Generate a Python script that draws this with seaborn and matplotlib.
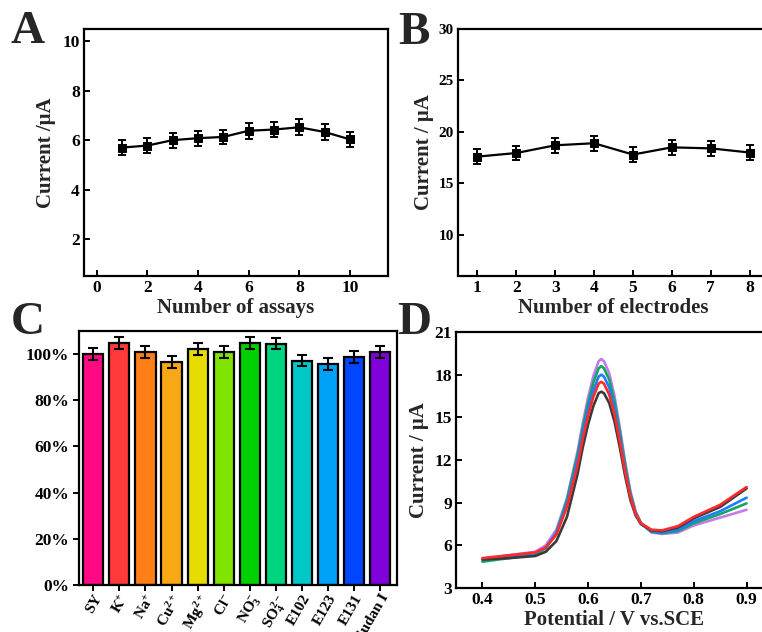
import numpy as np
import pandas as pd
import matplotlib
matplotlib.use("Agg")
import matplotlib.pyplot as plt
import seaborn as sns

# ---------------- Data ----------------
# Panel A: repeated assays
assay_no = [1, 2, 3, 4, 5, 6, 7, 8, 9, 10]
assay_current = [5.70, 5.78, 6.00, 6.08, 6.13, 6.38, 6.43, 6.52, 6.33, 6.03]
assay_err = [0.30, 0.30, 0.30, 0.30, 0.30, 0.32, 0.32, 0.32, 0.32, 0.30]

# Panel B: different electrodes
electrode_no = [1, 2, 3, 4, 5, 6, 7, 8]
electrode_current = [17.6, 17.95, 18.7, 18.9, 17.8, 18.5, 18.4, 18.0]
electrode_err = [0.7, 0.7, 0.7, 0.75, 0.7, 0.7, 0.7, 0.7]

# Panel C: interference study
interferents = ["SY", r"K$^{+}$", r"Na$^{+}$", r"Cu$^{2+}$", r"Mg$^{2+}$", r"Cl$^{-}$",
                r"NO$_{3}^{-}$", r"SO$_{4}^{2-}$", "E102", "E123", "E131", "Sudan I"]
recovery = [100.0, 104.8, 101.0, 96.5, 102.2, 101.0, 104.8, 104.5, 97.2, 95.8, 98.7, 101.0]
recovery_err = [2.5, 2.5, 2.5, 2.5, 2.5, 2.5, 2.5, 2.5, 2.5, 2.5, 2.5, 2.5]
bar_colors = ["#FF0A84", "#FF3A3A", "#FF7F16", "#F7A814", "#E6DC00", "#80E400",
              "#00D000", "#00D47E", "#00C8C8", "#00A2F8", "#0046FF", "#8200DC"]

# Panel D: DPV curves
potential = [0.40, 0.45, 0.50, 0.52, 0.54, 0.56, 0.58, 0.59, 0.60, 0.61, 0.62, 0.625, 0.63,
             0.64, 0.65, 0.66, 0.67, 0.68, 0.69, 0.70, 0.72, 0.74, 0.77, 0.80, 0.85, 0.90]
dpv_black = [5.00, 5.10, 5.25, 5.55, 6.30, 8.00, 11.0, 12.9, 14.5, 15.8, 16.7, 16.8, 16.7,
             16.0, 14.7, 12.9, 10.9, 9.20, 8.10, 7.50, 7.05, 7.00, 7.25, 7.90, 8.70, 10.0]
dpv_red = [5.10, 5.30, 5.50, 5.85, 6.75, 8.70, 11.6, 13.5, 15.1, 16.45, 17.37, 17.5, 17.37,
           16.6, 15.2, 13.3, 11.2, 9.40, 8.20, 7.55, 7.10, 7.05, 7.35, 8.00, 8.85, 10.1]
dpv_blue = [5.00, 5.20, 5.45, 5.85, 6.85, 8.95, 12.0, 13.9, 15.55, 16.9, 17.87, 18.0, 17.87,
            17.1, 15.6, 13.6, 11.4, 9.50, 8.20, 7.50, 7.00, 6.90, 7.10, 7.70, 8.40, 9.35]
dpv_green = [4.85, 5.10, 5.35, 5.80, 6.90, 9.20, 12.35, 14.3, 16.0, 17.45, 18.45, 18.6, 18.45,
             17.65, 16.1, 14.0, 11.7, 9.70, 8.30, 7.55, 6.95, 6.85, 7.00, 7.55, 8.20, 8.95]
dpv_violet = [5.05, 5.30, 5.55, 6.00, 7.10, 9.30, 12.6, 14.6, 16.4, 17.9, 18.95, 19.1, 18.95,
              18.1, 16.5, 14.3, 11.9, 9.80, 8.40, 7.60, 6.90, 6.80, 6.90, 7.40, 7.95, 8.50]
dpv_names = ["violet", "green", "blue", "black", "red"]
dpv_colors = {"violet": "#C27AEC", "green": "#14A466", "blue": "#1E7CFF",
              "black": "#3A3A3A", "red": "#FF2A2A"}

# ---------------- Style ----------------
sns.set_theme(style="ticks")
plt.rcParams["font.family"] = ["Liberation Serif", "DejaVu Serif"]
plt.rcParams["font.weight"] = "bold"
plt.rcParams["axes.labelweight"] = "bold"
plt.rcParams["mathtext.fontset"] = "custom"
plt.rcParams["mathtext.rm"] = "Liberation Serif:bold"
plt.rcParams["mathtext.it"] = "Liberation Serif:bold"
plt.rcParams["mathtext.bf"] = "Liberation Serif:bold"
plt.rcParams["mathtext.default"] = "bf"

W, H = 762, 632
fig = plt.figure(figsize=(W / 100, H / 100), dpi=100)

def box(l, t, r, b):
    return [l / W, (H - b) / H, (r - l) / W, (b - t) / H]

tick_fs = 12.5
label_fs = 15
lw = 1.6

def style_axes(ax, direction="in"):
    for s in ax.spines.values():
        s.set_linewidth(lw)
        s.set_color("black")
    ax.tick_params(direction=direction, length=4, width=1.4, labelsize=tick_fs,
                   colors="black", pad=3)
    for t in ax.get_xticklabels() + ax.get_yticklabels():
        t.set_fontweight("bold")

# ---- Panel A ----
axA = fig.add_axes(box(84, 29, 388, 276))
dfA = pd.DataFrame({"n": assay_no, "I": assay_current})
axA.errorbar(assay_no, assay_current, yerr=assay_err, fmt="none", ecolor="black",
             elinewidth=1.4, capsize=3, capthick=1.4, zorder=2)
sns.lineplot(data=dfA, x="n", y="I", ax=axA, color="black", lw=1.6, marker="s",
             markersize=6, markeredgecolor="black", zorder=3)
axA.set_xlim(-0.5, 11.5)
axA.set_ylim(0.5, 10.5)
axA.set_xticks([0, 2, 4, 6, 8, 10])
axA.set_yticks([2, 4, 6, 8, 10])
axA.set_xlabel("Number of assays", fontsize=label_fs, fontweight="bold", labelpad=1)
axA.set_ylabel("Current /μA", fontsize=label_fs, fontweight="bold", labelpad=5)
style_axes(axA)

# ---- Panel B ----
axB = fig.add_axes(box(458, 29, 769, 276))
dfB = pd.DataFrame({"n": electrode_no, "I": electrode_current})
axB.errorbar(electrode_no, electrode_current, yerr=electrode_err, fmt="none",
             ecolor="black", elinewidth=1.4, capsize=3, capthick=1.4, zorder=2)
sns.lineplot(data=dfB, x="n", y="I", ax=axB, color="black", lw=1.6, marker="s",
             markersize=6, markeredgecolor="black", zorder=3)
axB.set_xlim(0.5, 8.5)
axB.set_ylim(6, 30)
axB.set_xticks(electrode_no)
axB.set_yticks([10, 15, 20, 25, 30])
axB.set_xlabel("Number of electrodes", fontsize=label_fs, fontweight="bold", labelpad=1)
axB.set_ylabel("Current / μA", fontsize=label_fs, fontweight="bold", labelpad=3)
style_axes(axB)
axB.tick_params(axis="y", labelsize=11)

# ---- Panel C ----
axC = fig.add_axes(box(79, 331, 397, 585))
dfC = pd.DataFrame({"name": interferents, "rec": recovery})
sns.barplot(data=dfC, x="name", y="rec", hue="name", palette=bar_colors, legend=False,
            ax=axC, width=0.77, edgecolor="black", linewidth=1.6, saturation=1)
axC.errorbar(range(len(interferents)), recovery, yerr=recovery_err, fmt="none",
             ecolor="black", elinewidth=1.5, capsize=3.5, capthick=1.5, zorder=5)
axC.set_xlim(-0.55, 11.65)
axC.set_ylim(0, 110)
axC.set_yticks([0, 20, 40, 60, 80, 100])
axC.set_yticklabels([f"{v}%" for v in [0, 20, 40, 60, 80, 100]])
axC.set_xlabel("")
axC.set_ylabel("")
style_axes(axC, direction="out")
axC.tick_params(axis="x", labelsize=11, pad=1)
for t in axC.get_xticklabels():
    t.set_rotation(60)
    t.set_ha("right")
    t.set_rotation_mode("anchor")
    t.set_fontweight("bold")

# ---- Panel D ----
axD = fig.add_axes(box(456, 332, 773, 588))
rows = []
series = {"violet": dpv_violet, "green": dpv_green, "blue": dpv_blue,
          "black": dpv_black, "red": dpv_red}
for name in dpv_names:
    for x, y in zip(potential, series[name]):
        rows.append({"E": x, "I": y, "curve": name})
dfD = pd.DataFrame(rows)
sns.lineplot(data=dfD, x="E", y="I", hue="curve", hue_order=dpv_names,
             palette=dpv_colors, ax=axD, lw=1.9, legend=False, sort=False)
axD.set_xlim(0.35, 0.95)
axD.set_ylim(3, 21)
axD.set_xticks([0.4, 0.5, 0.6, 0.7, 0.8, 0.9])
axD.set_yticks([3, 6, 9, 12, 15, 18, 21])
axD.set_xlabel("Potential / V vs.SCE", fontsize=label_fs, fontweight="bold", labelpad=1)
axD.set_ylabel("Current / μA", fontsize=label_fs, fontweight="bold", labelpad=4)
style_axes(axD)

# ---- Panel letters ----
for letter, x, y in [("A", 28, 32), ("B", 414, 33), ("C", 28, 323), ("D", 414, 323)]:
    fig.text(x / W, 1 - y / H, letter, fontsize=34, fontweight="bold",
             ha="center", va="center")

fig.savefig("out.png", dpi=100)
